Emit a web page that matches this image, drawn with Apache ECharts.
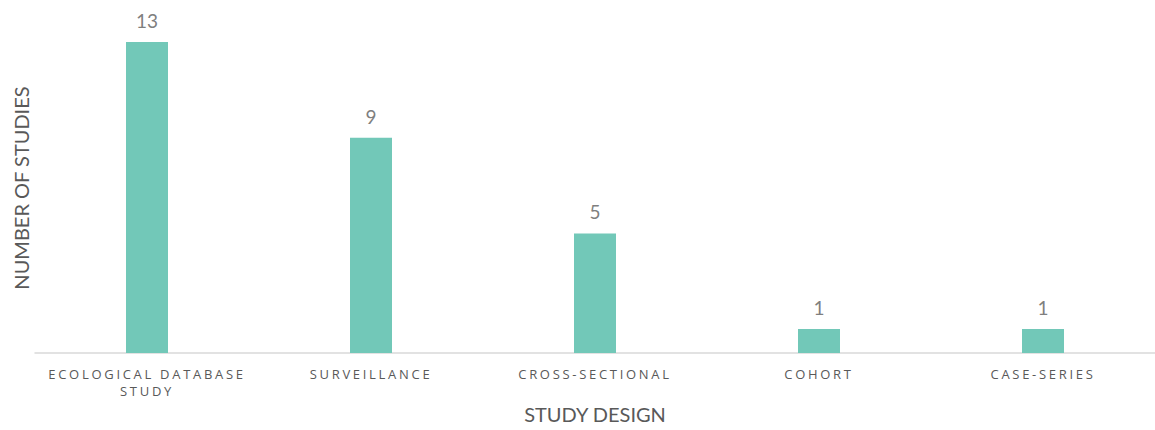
<!DOCTYPE html>
<html><head><meta charset="utf-8">
<script src="https://cdn.jsdelivr.net/npm/echarts@6/dist/echarts.min.js"></script>
<style>html,body{margin:0;padding:0;background:#fff}#c{width:1155px;height:430px}</style>
</head><body><div id="c"></div>
<script>
const categories = ['ECOLOGICAL DATABASE\nSTUDY', 'SURVEILLANCE', 'CROSS-SECTIONAL', 'COHORT', 'CASE-SERIES'];
const studies = [13, 9, 5, 1, 1];
const xTitle = 'STUDY DESIGN';
const yTitle = 'NUMBER OF STUDIES';

const chart = echarts.init(document.getElementById('c'), null, {renderer: 'svg'});
chart.setOption({
  animation: false,
  grid: {left: 35, right: 0, top: 42, bottom: 77, outerBoundsMode: 'none', containLabel: false},
  graphic: [{
    type: 'text', x: 21, y: 188, rotation: Math.PI / 2,
    style: {text: yTitle, fontFamily: 'Lato', fontSize: 20, fill: '#595959', align: 'center', verticalAlign: 'middle'}
  }],
  xAxis: {
    type: 'category', data: categories,
    name: xTitle, nameLocation: 'middle', nameGap: 51,
    nameTextStyle: {fontFamily: 'Lato', fontSize: 20, color: '#595959'},
    axisLine: {lineStyle: {color: '#d9d9d9', width: 1.5}},
    axisTick: {show: false},
    axisLabel: {fontFamily: 'Open Sans', fontSize: 13, color: '#595959', margin: 12, lineHeight: 17, interval: 0}
  },
  yAxis: {
    type: 'value', min: 0, max: 13,
    axisLine: {show: false}, axisTick: {show: false}, axisLabel: {show: false},
    splitLine: {show: false}
  },
  series: [{
    type: 'bar', data: studies, barWidth: 42,
    itemStyle: {color: '#72c8b8'},
    label: {show: true, position: 'top', distance: 12, fontFamily: 'Lato', fontSize: 19, color: '#7f7f7f'}
  }]
});
document.querySelectorAll('#c svg text').forEach(t => {
  if (getComputedStyle(t).fontSize === '13px') t.setAttribute('letter-spacing', '2.7px');
});
</script></body></html>
